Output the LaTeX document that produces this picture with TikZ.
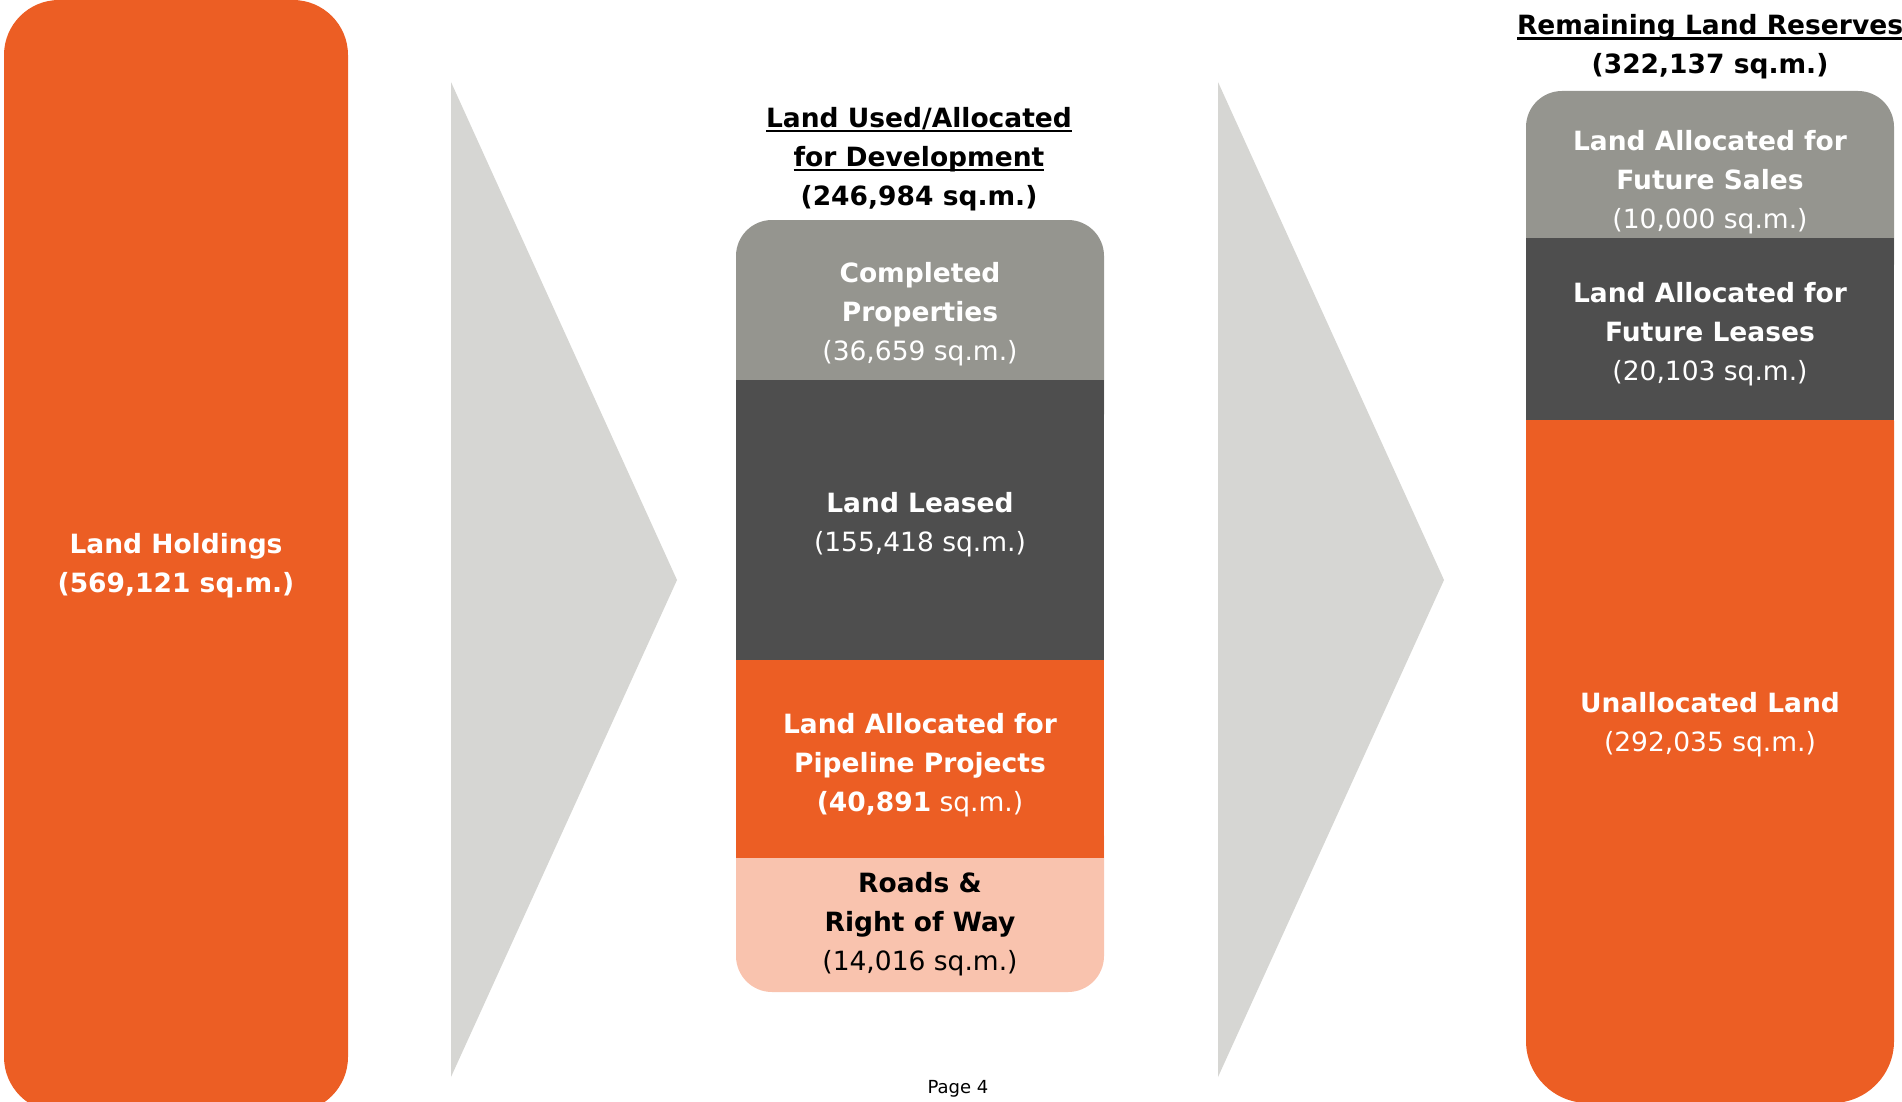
\documentclass[tikz,border=0pt]{standalone}
\usepackage{fontspec}
\setmainfont{DejaVu Sans}
\definecolor{landorange}{HTML}{EC5E24}
\definecolor{landdark}{HTML}{4E4E4E}
\definecolor{landgrey}{HTML}{95958F}
\definecolor{landpink}{HTML}{F9C3AE}
\definecolor{chevrongrey}{HTML}{D6D6D3}
\newcommand{\ulined}[1]{\setbox0\hbox{#1}\rlap{\rule[-5pt]{\wd0}{2.5pt}}\box0}

\begin{document}
\begin{tikzpicture}[%
    x=1pt, y=-1pt,
    chevron/.style={fill=chevrongrey},
    whitetext/.style={text=white, align=center, font=\fontsize{26.5}{39}\selectfont},
    blacktext/.style={text=black, align=center, font=\fontsize{26.5}{39}\selectfont}]
    \useasboundingbox (0,0) rectangle (1902,1102);

    \fill[landorange, rounded corners=55pt] (4,0) rectangle (348,1112);
    \fill[chevron] (451,82) -- (677,580) -- (451,1077) -- cycle;
    \fill[chevron] (1218,82) -- (1444,580) -- (1218,1077) -- cycle;

    \fill[landgrey, rounded corners=36pt] (736,220) rectangle (1104,450);
    \fill[landpink, rounded corners=36pt] (736,800) rectangle (1104,992);
    \fill[landdark] (736,380) rectangle (1104,660);
    \fill[landorange] (736,660) rectangle (1104,858);

    \fill[landorange, rounded corners=62pt] (1526,360) rectangle (1894,1103);
    \fill[landgrey, rounded corners=36pt] (1526,91) rectangle (1894,300);
    \fill[landdark] (1526,238) rectangle (1894,420);

    \node[whitetext] (holdings) at (176,566) {\textbf{Land Holdings}\\ \textbf{(569,121 sq.m.)}};

    \node[blacktext] (devtitle) at (919,159) {\textbf{\ulined{Land Used/Allocated}}\\ \textbf{\ulined{for Development}}\\ \textbf{(246,984 sq.m.)}};
    \node[whitetext] (completed) at (920,314) {\textbf{Completed}\\ \textbf{Properties}\\ (36,659 sq.m.)};
    \node[whitetext] (leased) at (920,525) {\textbf{Land Leased}\\ (155,418 sq.m.)};
    \node[whitetext] (pipeline) at (920,765) {\textbf{Land Allocated for}\\ \textbf{Pipeline Projects}\\ \textbf{(40,891} sq.m.)};
    \node[blacktext] (roads) at (920,924) {\textbf{Roads \&}\\ \textbf{Right of Way}\\ (14,016 sq.m.)};

    \node[blacktext] (reservetitle) at (1710,47) {\textbf{\ulined{Remaining Land Reserves}}\\ \textbf{(322,137 sq.m.)}};
    \node[whitetext] (sales) at (1710,182) {\textbf{Land Allocated for}\\ \textbf{Future Sales}\\ (10,000 sq.m.)};
    \node[whitetext] (leases) at (1710,334) {\textbf{Land Allocated for}\\ \textbf{Future Leases}\\ (20,103 sq.m.)};
    \node[whitetext] (unallocated) at (1710,725) {\textbf{Unallocated Land}\\ (292,035 sq.m.)};

    \node[anchor=south, font=\fontsize{18}{22}\selectfont] (page) at (958,1101) {Page 4};
\end{tikzpicture}
\end{document}
